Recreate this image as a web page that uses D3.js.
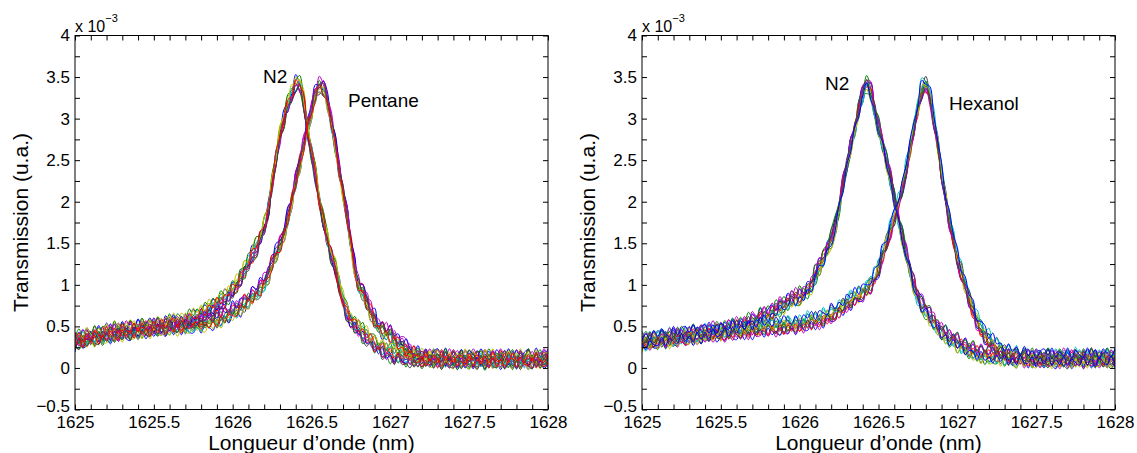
<!DOCTYPE html>
<html><head><meta charset="utf-8">
<script src="https://cdn.jsdelivr.net/npm/d3@7"></script>
<style>
body{margin:0;background:#fff}
svg{display:block}
text{font-family:"Liberation Sans",Arial,Helvetica,sans-serif;fill:#000}
</style>
</head><body>
<svg id="chart" width="1137" height="453"></svg>
<script>
// ---------- DATA (transmission in units of 1e-5, sampled every 0.025 nm from 1625 to 1628 nm) ----------
const sampleCount = 121;
const leftN2 = [
 32,34,35,36,37,38,39,40,41,42,
 43,43,44,45,45,46,47,47,48,48,
 49,50,50,51,52,53,54,55,56,58,
 60,62,64,67,70,73,76,80,84,88,
 93,100,108,118,128,136,145,157,170,190,
 222,252,279,300,316,330,341,340,322,285,
 260,232,203,178,155,137,120,100,82,67,
 57,52,47,42,38,33,29,25,22,19,
 17,15,14,13,12,12,11,11,11,11,
 11,11,10,10,10,10,10,10,10,10,
 10,10,10,10,10,10,10,10,10,10,
 10,10,10,10,10,10,10,10,10,10,
 10];
const leftPentane = [
 31,33,34,35,36,37,38,39,40,41,
 42,42,43,44,44,45,46,46,47,47,
 48,48,49,49,50,50,50,51,51,51,
 51,52,53,54,56,57,59,60,62,64,
 68,70,73,77,82,86,90,95,102,112,
 125,137,148,163,180,200,225,245,268,290,
 310,328,338,336,322,296,270,240,212,183,
 150,122,100,90,80,68,58,50,46,43,
 40,35,30,26,22,18,15,13,12,12,
 11,11,11,11,11,10,10,10,10,10,
 10,10,10,10,10,10,10,10,10,10,
 10,10,10,10,10,10,10,10,10,10,
 10];
const rightN2 = [
 30,31,32,33,33,34,35,35,36,37,
 38,38,39,40,40,41,42,43,44,44,
 45,46,47,48,50,51,52,54,55,57,
 60,62,64,67,70,73,76,79,82,84,
 86,88,92,100,112,122,132,143,155,170,
 195,220,245,268,288,310,330,342,332,310,
 290,270,250,228,205,180,158,138,118,100,
 85,76,70,62,55,49,44,40,36,33,
 30,27,25,22,20,18,17,16,15,14,
 14,13,13,13,12,12,12,12,11,11,
 11,11,11,11,11,11,11,11,11,11,
 11,11,11,11,11,11,11,11,11,11,
 11];
const rightHexanol = [
 31,32,33,34,34,35,36,36,37,37,
 38,38,39,39,40,40,41,41,42,42,
 42,43,43,44,44,45,45,46,46,47,
 47,48,48,49,49,50,50,51,51,52,
 53,54,55,56,57,58,60,62,64,67,
 70,74,78,81,84,87,91,95,100,108,
 120,135,150,166,180,198,215,240,262,290,
 312,335,340,325,300,270,235,205,178,155,
 132,115,100,85,70,57,47,40,34,29,
 25,22,19,17,15,14,13,12,12,11,
 11,11,11,11,11,11,11,11,11,11,
 11,11,11,11,11,11,11,11,11,11,
 11];
// measurement-to-measurement fluctuations (units of 1e-5), one profile per repeated scan
const noiseA = [5,-4,6,-3,2,-6,7,-2,-3,6,-5,4,-1,-6,5,-3,7,-4,2,-5,6,-2,-4,7,-5,3,-1,-6,4,-3,6,-5,2,4,-7,5,-2,-4,6,-3,5,-6,3,-1,-5,7,-4,2,-6,5,-3,4,-6,6,-2,-5,7,-3,4,-6,2,5,-4,6,-7,3,-2,5,-6,4,-1,-5,6,-4,3,-7,5,-2,-3,6,-5,4,-6,2,5,-4,7,-3,-2,6,-6,3,-4,5,-1,-6,4,-5,7,-2,3,-5,6,-4,2,-7,5,-3,-1,6,-4,5,-6,3,-2,7,-5,4,-3,6,-2];
const noiseB = [-3,6,-5,2,4,-6,3,-7,5,-1,-4,6,-3,5,-6,2,3,-5,7,-4,1,-6,5,-3,6,-2,-5,4,-7,3,-2,5,-6,4,-1,-5,7,-3,2,-6,4,-4,6,-5,3,-2,-6,5,-3,7,-5,2,4,-6,3,-4,6,-1,-5,4,-6,7,-2,-3,5,-6,4,-2,6,-5,3,-4,5,-7,2,4,-5,6,-3,1,-6,5,-2,4,-5,7,-4,3,-6,2,5,-3,6,-5,1,-4,6,-6,3,-2,-5,6,-3,4,-7,5,-1,-4,6,-5,2,-6,4,-3,5,-2,-5,6,-4,3,5];
const noiseC = [1,-5,7,-4,3,-2,-6,5,-3,6,-6,2,4,-5,6,-3,-1,-6,5,-4,7,-3,2,-5,6,-6,3,-2,-4,5,-5,6,-3,1,-6,4,-5,7,-2,-3,6,-5,2,-4,5,-6,3,-1,-5,6,-4,7,-3,2,-6,5,-4,3,-2,-5,6,-3,4,-6,1,-4,6,-5,3,-7,5,-2,-4,6,-3,5,-6,2,-1,-5,7,-4,3,-6,5,-2,-3,6,-5,4,-2,-6,5,-3,6,-4,2,-5,3,-6,4,1,-5,6,-4,3,-6,5,-2,-3,6,-5,4,-2,-6,5,-3,6,-5,2,-4];
const noiseD = [-6,4,-2,5,-5,3,-4,6,-1,-5,6,-3,5,-6,2,-4,6,-5,3,1,-5,6,-4,2,-6,7,-3,4,-5,2,3,-6,5,-2,4,-5,2,-6,7,-4,-2,5,-5,6,-3,1,-6,4,-4,6,-3,-5,5,-2,6,-6,3,-4,5,-1,-5,6,-4,3,-5,7,-2,-3,6,-5,4,-1,-6,5,-3,6,-4,2,5,-6,3,-5,6,-2,-4,5,-6,4,-3,7,-5,2,-3,6,-5,4,-2,-6,5,-3,6,-4,2,-5,7,-3,-2,5,-6,4,-3,6,-5,2,3,-6,4,-4,5,-2,-6];
const noiseE = [4,-2,-5,6,-4,5,-6,2,3,-5,7,-4,1,-5,6,-2,-3,5,-6,4,-3,5,-6,3,-2,6,-5,4,-1,-6,5,-2,3,-6,6,-4,2,-5,4,-2,-6,6,-3,4,-6,2,5,-4,6,-5,1,-3,6,-5,4,-6,2,-2,6,-4,-3,5,-6,4,-2,-5,6,-3,5,-6,2,-5,4,-3,6,-5,1,-4,6,-2,-4,6,-5,3,-6,2,4,-5,6,-3,1,-5,6,-4,3,-6,5,-2,-4,6,-5,3,-6,4,-2,-4,6,-5,3,-6,5,-1,-4,6,-5,3,-6,5,-2,-3,4];
const noiseF = [-2,5,-6,3,-4,6,-5,1,4,-6,3,-5,6,-4,2,-6,5,-3,-2,6,-4,3,-6,5,-1,-4,6,-5,3,-6,4,-3,5,-6,2,3,-5,6,-4,1,-5,4,-2,5,-6,3,-5,6,-3,-2,5,-6,4,-3,6,-5,2,-4,6,-5,3,-2,-5,6,-4,3,-6,5,-1,-4,6,-5,3,-6,4,-2,-3,6,-5,4,-1,-5,6,-4,2,-6,5,-3,4,-5,6,-3,-2,5,-6,4,-5,3,-2,6,-6,4,-3,5,-5,2,-4,6,-3,-2,5,-6,3,-4,6,-5,2,4,-6,3,-5];
const noiseG = [6,-3,4,-5,1,-6,5,-4,3,-2,-5,6,-2,4,-6,3,-5,6,-1,-4,5,-6,3,-3,6,-5,2,-6,5,-2,-4,6,-5,2,-3,6,-4,3,-6,5,-2,-4,6,-5,3,-6,4,-2,5,-6,6,-4,2,-5,6,-2,-4,5,-6,3,-2,4,-6,5,-3,6,-5,1,-4,6,-5,3,-2,6,-4,5,-6,3,-5,2,4,-6,5,-2,-3,6,-5,4,-6,2,-3,5,-6,4,-2,5,-6,3,-4,6,-2,-5,6,-3,4,-6,5,-2,3,-6,4,-3,6,-5,2,-4,5,-6,3,-1,5];
const scanOffsets = [5,-6,2,-3,7,-1,-4];
// axis ticks and labels
const xTickValues = d3.range(31).map(i => 1625 + i / 10);
const xTickLabels = ["1625","1625.5","1626","1626.5","1627","1627.5","1628"];
const yTickValues = d3.range(19).map(i => -0.5 + i / 4);
const yTickLabels = ["\u22120.5","0","0.5","1","1.5","2","2.5","3","3.5","4"];
const leftNames = ["N2","Pentane"];
const rightNames = ["N2","Hexanol"];

// ---------- DRAWING ----------
const svg = d3.select("#chart");
svg.append("rect").attr("width",1137).attr("height",453).attr("fill","#fff");
const wavelengths = d3.range(sampleCount).map(i => 1625 + i * 0.025);
const noiseSets = [noiseA,noiseB,noiseC,noiseD,noiseE,noiseF,noiseG];
const leftColors = ["#0000ff","#008000","#00bfbf","#bf00bf","#bfbf00","#404040","#ff0000"];
const rightColors = ["#008000","#ff0000","#00bfbf","#bf00bf","#bfbf00","#404040","#0000ff"];

const panels = [
  {x0:75, x1:548, groups:[leftN2,leftPentane], names:leftNames, colors:leftColors,
   namePos:[[263,83],[348,106.5]], id:"L"},
  {x0:642, x1:1115, groups:[rightN2,rightHexanol], names:rightNames, colors:rightColors,
   namePos:[[825,90],[949,110]], id:"R"}
];
const yTop = 35.5, yBot = 409.5;
const y = d3.scaleLinear().domain([-0.5,4]).range([yBot,yTop]);

panels.forEach((p,pi) => {
  const x = d3.scaleLinear().domain([1625,1628]).range([p.x0,p.x1]);
  const g = svg.append("g");
  g.append("clipPath").attr("id","clip"+p.id).append("rect")
    .attr("x",p.x0).attr("y",yTop).attr("width",p.x1-p.x0).attr("height",yBot-yTop);
  const line = d3.line().x(d => x(d[0])).y(d => y(d[1] / 100)).curve(d3.curveCatmullRom.alpha(0.5));
  const plot = g.append("g").attr("clip-path","url(#clip"+p.id+")");
  for (let pass = 0; pass < 2; pass++) {
    for (let k = 0; k < 7; k++) {
      p.groups.forEach((base,gi) => {
        const noise = noiseSets[(k + gi*3 + pi*2 + pass*4) % 7];
        const shift = gi*37 + pi*19 + pass*53;
        const off = scanOffsets[(k + gi + pi + pass*3) % 7];
        const pts = wavelengths.map((w,i) => [w, base[i] + noise[(i + shift) % sampleCount] + off]);
        plot.append("path").attr("d",line(pts)).attr("fill","none")
          .attr("stroke",p.colors[k]).attr("stroke-width",1).attr("stroke-linejoin","round");
      });
    }
  }
  // axes (ticks inward on all four sides)
  const fmtX = d => { const j = Math.round((d-1625)*10); return j % 5 === 0 ? xTickLabels[j/5] : ""; };
  const fmtY = d => { const j = Math.round((d+0.5)*4); return j % 2 === 0 ? yTickLabels[j/2] : ""; };
  const ax = g.append("g").attr("transform",`translate(0,${yBot})`)
    .call(d3.axisBottom(x).tickValues(xTickValues).tickSize(-5).tickSizeOuter(0).tickPadding(6).tickFormat(fmtX));
  const axT = g.append("g").attr("transform",`translate(0,${yTop})`)
    .call(d3.axisTop(x).tickValues(xTickValues).tickSize(-5).tickSizeOuter(0).tickFormat(""));
  const ay = g.append("g").attr("transform",`translate(${p.x0},0)`)
    .call(d3.axisLeft(y).tickValues(yTickValues).tickSize(-5).tickSizeOuter(0).tickPadding(5).tickFormat(fmtY));
  const ayR = g.append("g").attr("transform",`translate(${p.x1},0)`)
    .call(d3.axisRight(y).tickValues(yTickValues).tickSize(-5).tickSizeOuter(0).tickFormat(""));
  [ax,axT,ay,ayR].forEach(a => {
    a.select(".domain").remove();
    a.selectAll("line").attr("stroke","#000").attr("stroke-width",1);
    a.selectAll("text").attr("font-size",17).attr("font-family","Liberation Sans, Arial, sans-serif").attr("fill","#000");
  });
  // lowest y label sits just above the x labels (as in the original figure)
  ay.selectAll(".tick").filter(d => d === -0.5).select("text").attr("dy","0.1em");
  g.append("rect").attr("x",p.x0).attr("y",yTop).attr("width",p.x1-p.x0).attr("height",yBot-yTop)
    .attr("fill","none").attr("stroke","#000").attr("stroke-width",1);
  // exponent
  const ex = g.append("text").attr("x",p.x0).attr("y",31.5).attr("font-size",16);
  ex.append("tspan").text("x 10");
  ex.append("tspan").attr("font-size",11).attr("dy",-10).text("\u22123");
  // axis titles
  g.append("text").attr("x",(p.x0+p.x1)/2).attr("y",450).attr("text-anchor","middle")
    .attr("font-size",21).text("Longueur d\u2019onde (nm)");
  g.append("text").attr("transform",`translate(${p.x0-47},${(yTop+yBot)/2}) rotate(-90)`)
    .attr("text-anchor","middle").attr("font-size",21).text("Transmission (u.a.)");
  // annotations
  p.names.forEach((n,i) => {
    g.append("text").attr("x",p.namePos[i][0]).attr("y",p.namePos[i][1]).attr("font-size",19).text(n);
  });
});
</script>
</body></html>
